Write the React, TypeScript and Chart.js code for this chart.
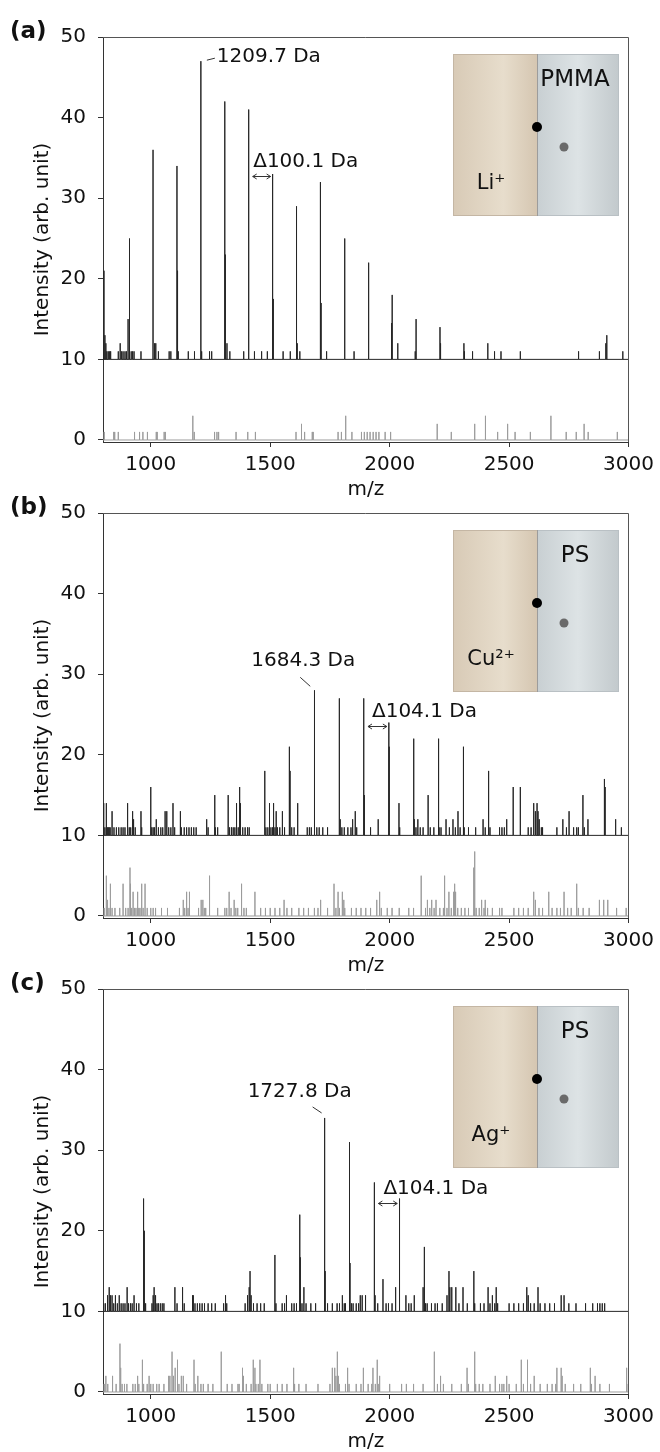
import React, { useEffect, useRef } from "react";
import { Chart, registerables } from "chart.js";

Chart.register(...registerables);

type Peak = [number, number];

const FONT = '"DejaVu Sans", "Liberation Sans", sans-serif';

const xTickValues = [1000, 1500, 2000, 2500, 3000];
const yTickValues = [0, 10, 20, 30, 40, 50];
const X_MIN = 800;
const X_MAX = 3000;
const Y_MIN = -0.25;
const Y_MAX = 50;
const BLACK_BASELINE = 10;
const GRAY_BASELINE = 0;

const panelTags = ["(a)", "(b)", "(c)"];
const polymerNames = ["PMMA", "PS", "PS"];
const ionNames = ["Li⁺", "Cu²⁺", "Ag⁺"];
const peakLabels = ["1209.7 Da", "1684.3 Da", "1727.8 Da"];
const peakLabelMz = [1209.7, 1684.3, 1727.8];
const deltaLabels = ["Δ100.1 Da", "Δ104.1 Da", "Δ104.1 Da"];
const deltaFromMz = [1409.9, 1892.5, 1936.0];
const deltaToMz = [1510.0, 1996.6, 2040.1];

// Panel (a) – Li+ / PMMA : [m/z, intensity above its baseline]
const aBlackPeaks: Peak[] = [
  [804, 11], [808, 3], [812, 2], [816, 1], [822, 1], [828, 1], [832, 1], [864, 1], [872, 2], [878, 1],
  [884, 1], [892, 1], [898, 1], [905, 5], [909.4, 15], [912, 8], [918, 1], [924, 1], [930, 1], [959, 1],
  [1009.5, 26], [1016, 2], [1021, 2], [1032, 1], [1077, 1], [1084, 1], [1109.6, 24], [1112, 11], [1115, 1],
  [1157, 1], [1183, 1], [1209.7, 37], [1213, 1], [1246, 1], [1255, 1], [1309.8, 32], [1312, 13], [1319, 2],
  [1331, 1], [1389, 1], [1409.9, 31], [1434, 1], [1464, 1], [1488, 1], [1510.0, 23], [1513, 7.5], [1554, 1],
  [1584, 1], [1610.1, 19], [1613, 2], [1624, 1], [1710.2, 22], [1713, 7], [1736, 1], [1810.3, 15], [1813, 9],
  [1851, 1], [1910.4, 12], [1913, 1], [2008, 4.5], [2010.5, 8], [2034, 2], [2107, 1], [2110.6, 5], [2210.7, 4],
  [2213, 2], [2310.8, 2], [2313, 1], [2347, 1], [2410.9, 2], [2439, 1], [2466, 1], [2547, 1], [2789, 1],
  [2792, 1], [2878, 1], [2905, 2], [2909, 3], [2976, 1],
];
const aGrayPeaks: Peak[] = [
  [805, 1], [845, 1], [849, 1], [864, 1], [932, 1], [953, 1], [967, 1], [986, 1], [1023, 1], [1027, 1],
  [1056, 1], [1061, 1], [1176, 3], [1182, 1], [1267, 1], [1277, 1], [1284, 1], [1357, 1], [1406, 1], [1438, 1],
  [1608, 1], [1631, 2], [1644, 1], [1676, 1], [1680, 1], [1784, 1], [1798, 1], [1816, 3], [1842, 1], [1882, 1],
  [1894, 1], [1906, 1], [1918, 1], [1931, 1], [1943, 1], [1955, 1], [1981, 1], [2004, 1], [2199, 2], [2258, 1],
  [2356, 2], [2401, 3], [2452, 1], [2492, 2], [2495, 1], [2525, 1], [2589, 1], [2675, 3], [2739, 1], [2781, 1],
  [2814, 2], [2831, 1], [2953, 1],
];

// Panel (b) – Cu2+ / PS
const bBlackPeaks: Peak[] = [
  [803, 4], [808, 1], [814, 4], [818, 1], [822, 1], [826, 1], [830, 1], [838, 3], [846, 1], [856, 1],
  [866, 1], [876, 1], [884, 1], [892, 1], [903, 4], [910, 1], [916, 1], [924, 3], [928, 2], [935, 1],
  [959, 3], [962, 1], [1000, 6], [1004, 1], [1010, 1], [1016, 1], [1023, 2], [1032, 1], [1042, 1], [1050, 1],
  [1060, 3], [1067, 3], [1075, 1], [1084, 1], [1093, 4], [1100, 1], [1124, 3], [1128, 1], [1140, 1], [1150, 1],
  [1160, 1], [1170, 1], [1180, 1], [1190, 1], [1234, 2], [1240, 1], [1267.9, 5], [1270, 1], [1280, 1], [1324, 5],
  [1330, 1], [1338, 1], [1345, 1], [1352, 1], [1359, 4], [1366, 1], [1372.0, 6], [1375, 4], [1385, 1], [1395, 1],
  [1405, 1], [1412, 1], [1476.1, 8], [1478, 7], [1482, 1], [1490, 1], [1497, 4], [1503, 1], [1510, 1], [1514, 4],
  [1520, 1], [1525, 3], [1530, 1], [1540, 1], [1551, 3], [1560, 1], [1580.2, 11], [1583, 8], [1590, 1], [1600, 1],
  [1615, 4], [1655, 1], [1664, 1], [1672, 1], [1684.3, 18], [1686, 9], [1695, 1], [1705, 1], [1720, 1], [1740, 1],
  [1788.4, 17], [1790, 5], [1793, 2], [1800, 1], [1810, 1], [1825, 1], [1838, 1], [1845, 2], [1856, 3], [1862, 1],
  [1890, 3], [1892.5, 17], [1894, 5], [1920, 1], [1952, 2], [1996.6, 14], [1998, 11], [2039, 4], [2042, 1],
  [2100.7, 12], [2103, 2], [2110, 1], [2118, 2], [2128, 1], [2140, 1], [2161, 5], [2170, 1], [2185, 1],
  [2204.8, 12], [2207, 1], [2215, 1], [2236, 2], [2250, 1], [2265, 2], [2275, 1], [2286, 3], [2295, 1],
  [2308.9, 11], [2312, 1], [2330, 1], [2360, 1], [2391, 2], [2400, 1], [2413.0, 8], [2415, 6], [2420, 1],
  [2460, 1], [2470, 1], [2480, 1], [2490, 2], [2517.1, 6], [2547, 6], [2580, 1], [2592, 1], [2603, 4], [2610, 3],
  [2617, 4], [2621, 3], [2626, 2], [2635, 1], [2640, 1], [2700, 1], [2725, 2], [2740, 1], [2751, 3], [2770, 1],
  [2783, 1], [2790, 1], [2809, 5], [2815, 1], [2830, 2], [2899, 7], [2902, 6], [2946, 2], [2970, 1],
];
const bGrayPeaks: Peak[] = [
  [805, 1], [814, 5], [819, 2], [825, 1], [831, 4], [838, 1], [850, 1], [870, 1], [884, 4], [895, 1],
  [905, 1], [913, 6], [915, 4], [920, 1], [926, 3], [932, 1], [938, 1], [945, 3], [950, 1], [955, 1],
  [962, 4], [968, 1], [976, 4], [985, 1], [1000, 1], [1010, 1], [1020, 1], [1045, 1], [1070, 1], [1120, 1],
  [1136, 2], [1142, 1], [1150, 3], [1156, 1], [1162, 3], [1200, 1], [1211, 2], [1218, 2], [1224, 1], [1230, 1],
  [1246, 5], [1280, 1], [1310, 1], [1318, 1], [1328, 3], [1336, 1], [1349, 2], [1356, 1], [1364, 1], [1380, 4],
  [1390, 1], [1400, 1], [1436, 3], [1460, 1], [1480, 1], [1500, 1], [1520, 1], [1540, 1], [1558, 2], [1570, 1],
  [1590, 1], [1620, 1], [1640, 1], [1660, 1], [1685, 1], [1700, 1], [1711, 2], [1740, 1], [1767, 4], [1775, 1],
  [1784, 3], [1790, 1], [1802, 3], [1808, 2], [1812, 1], [1840, 1], [1860, 1], [1880, 1], [1900, 1], [1920, 1],
  [1946, 2], [1958, 3], [1965, 1], [1990, 1], [2010, 1], [2040, 1], [2080, 1], [2100, 1], [2132, 5], [2150, 1],
  [2158, 2], [2168, 1], [2176, 2], [2186, 1], [2194, 2], [2210, 1], [2225, 1], [2230, 5], [2240, 1], [2248, 3],
  [2258, 1], [2268, 3], [2272, 4], [2276, 3], [2285, 1], [2300, 1], [2315, 1], [2330, 1], [2352, 6], [2356, 8],
  [2362, 1], [2375, 1], [2385, 2], [2395, 1], [2400, 2], [2410, 1], [2430, 1], [2460, 1], [2470, 1], [2520, 1],
  [2540, 1], [2560, 1], [2580, 1], [2603, 3], [2610, 2], [2625, 1], [2640, 1], [2666, 3], [2680, 1], [2700, 1],
  [2715, 1], [2730, 3], [2745, 1], [2760, 1], [2783, 4], [2790, 1], [2810, 1], [2835, 1], [2878, 2], [2896, 2],
  [2913, 2], [2950, 1], [2990, 1],
];

// Panel (c) – Ag+ / PS
const cBlackPeaks: Peak[] = [
  [803, 1], [810, 1], [819, 2], [826, 3], [831, 2], [838, 2], [845, 1], [852, 2], [860, 1], [868, 2],
  [876, 1], [884, 1], [892, 1], [901, 3], [907, 1], [915, 1], [922, 1], [930, 2], [940, 1], [950, 1],
  [968, 13], [971, 14], [973, 10], [976, 1], [980, 1], [1005, 1], [1010, 2], [1014, 3], [1020, 2], [1026, 1],
  [1032, 1], [1040, 1], [1048, 1], [1055, 1], [1101, 3], [1110, 1], [1133, 3], [1140, 1], [1175, 2], [1178, 2],
  [1185, 1], [1195, 1], [1205, 1], [1215, 1], [1225, 1], [1240, 1], [1255, 1], [1270, 1], [1305, 1], [1311.4, 2],
  [1314, 2], [1318, 1], [1395, 1], [1405, 2], [1412, 3], [1415.5, 5], [1420, 2], [1430, 1], [1445, 1], [1460, 1],
  [1475, 1], [1519.6, 7], [1524, 1], [1550, 1], [1560, 1], [1568, 2], [1590, 1], [1600, 1], [1610, 1],
  [1623.7, 12], [1626, 6.7], [1633, 1], [1641, 3], [1650, 1], [1670, 1], [1690, 1], [1727.8, 24], [1730, 5],
  [1740, 1], [1760, 1], [1780, 1], [1790, 1], [1802, 2], [1810, 1], [1815, 1], [1831.9, 21], [1834, 6],
  [1840, 1], [1847, 1], [1860, 1], [1870, 1], [1877, 2], [1885, 2], [1899, 2], [1936.0, 16], [1939, 2],
  [1950, 1], [1972, 4], [1985, 1], [1995, 1], [2010, 1], [2025, 3], [2040.1, 14], [2042, 11], [2068, 2],
  [2080, 1], [2090, 1], [2103, 2], [2140, 3], [2144.2, 8], [2146, 5], [2150, 1], [2157, 1], [2175, 1],
  [2190, 1], [2200, 1], [2220, 1], [2240, 2], [2248.3, 5], [2252, 3], [2260, 3], [2277, 3], [2290, 1],
  [2307, 3], [2325, 1], [2352.4, 5], [2356, 1], [2380, 1], [2395, 1], [2412, 3], [2420, 1], [2430, 2],
  [2440, 1], [2446, 3], [2452, 1], [2500, 1], [2520, 1], [2540, 1], [2560, 1], [2574, 3], [2580, 2], [2590, 1],
  [2605, 1], [2621, 3], [2630, 1], [2650, 1], [2670, 1], [2690, 1], [2718, 2], [2730, 2], [2750, 1], [2780, 1],
  [2820, 1], [2850, 1], [2870, 1], [2880, 1], [2890, 1], [2900, 1],
];
const cGrayPeaks: Peak[] = [
  [805, 1], [812, 2], [820, 1], [840, 2], [855, 1], [871, 6], [874, 3], [880, 1], [890, 1], [900, 1],
  [925, 1], [935, 1], [945, 2], [950, 1], [965, 4], [970, 1], [985, 1], [993, 2], [1000, 1], [1010, 1],
  [1025, 1], [1035, 1], [1055, 1], [1075, 2], [1080, 2], [1089, 5], [1095, 2], [1102, 3], [1110, 4], [1113, 2],
  [1118, 1], [1128, 2], [1136, 2], [1150, 1], [1181, 4], [1186, 1], [1197, 2], [1210, 1], [1220, 1], [1240, 1],
  [1260, 1], [1295, 5], [1320, 1], [1340, 1], [1365, 1], [1370, 1], [1384, 3], [1388, 2], [1400, 1], [1420, 1],
  [1429, 4], [1436, 3], [1440, 1], [1450, 1], [1457, 4], [1465, 1], [1490, 1], [1500, 1], [1530, 1], [1550, 1],
  [1570, 1], [1598, 3], [1602, 1], [1620, 1], [1650, 1], [1700, 1], [1750, 1], [1760, 3], [1770, 3], [1775, 2],
  [1781, 5], [1785, 2], [1790, 1], [1815, 1], [1824, 3], [1830, 1], [1860, 1], [1880, 1], [1890, 3], [1910, 1],
  [1925, 1], [1930, 3], [1940, 1], [1948, 4], [1952, 1], [1958, 2], [2000, 1], [2050, 1], [2070, 1], [2100, 1],
  [2140, 1], [2187, 5], [2200, 1], [2213, 2], [2225, 1], [2260, 1], [2300, 1], [2324, 3], [2330, 1], [2356, 5],
  [2360, 1], [2375, 1], [2390, 1], [2420, 1], [2442, 2], [2460, 1], [2470, 1], [2478, 1], [2490, 2], [2500, 1],
  [2530, 1], [2551, 4], [2560, 1], [2577, 4], [2590, 1], [2605, 2], [2630, 1], [2660, 1], [2680, 1], [2695, 1],
  [2700, 3], [2718, 3], [2722, 2], [2735, 1], [2770, 1], [2800, 1], [2840, 3], [2845, 1], [2860, 2], [2880, 1],
  [2920, 1], [2992, 3], [2998, 1],
];

const blackSeries = [aBlackPeaks, bBlackPeaks, cBlackPeaks];
const graySeries = [aGrayPeaks, bGrayPeaks, cGrayPeaks];

// ---- layout (pixels) ----
const CANVAS_W = 660;
const CANVAS_H = 500;
const PANEL_TOPS = [0, 476, 952];
const leaderStart = [[6, -1], [-14, -13], [-12, -11]];
const leaderEnd = [[14, -3], [-4, -4], [-3, -5]];
const labelPos = [[16, -4], [-11, -30], [-25, -26]];
const labelAlign: CanvasTextAlign[] = ["left", "center", "center"];
const deltaArrowDy = [2, 3, 4];
const deltaTextDx = [4.5, 8, 9];

function spikes(peaks: Peak[], base: number) {
  const sorted = [...peaks].sort((p, q) => p[0] - q[0]);
  const pts: { x: number; y: number }[] = [{ x: X_MIN, y: base }];
  for (const [m, h] of sorted) {
    pts.push({ x: m, y: base }, { x: m, y: base + h }, { x: m, y: base });
  }
  pts.push({ x: X_MAX, y: base });
  return pts;
}

function decorPlugin(i: number) {
  return {
    id: "decor" + i,
    afterDraw(chart: any) {
      const { ctx, chartArea: ca, scales } = chart;
      const xs = scales.x;
      const ys = scales.y;
      ctx.save();

      // frame top & right
      ctx.strokeStyle = "#555";
      ctx.lineWidth = 1;
      ctx.beginPath();
      const tY = Math.round(ca.top) + 0.5;
      const rX = Math.round(ca.right) - 0.5;
      ctx.moveTo(ca.left, tY);
      ctx.lineTo(rX, tY);
      ctx.lineTo(rX, ca.bottom);
      ctx.stroke();

      // panel tag
      ctx.fillStyle = "#111";
      ctx.font = `bold 23px ${FONT}`;
      ctx.textAlign = "left";
      ctx.textBaseline = "middle";
      ctx.fillText(panelTags[i], 10, 32);

      // inset
      const L = ca.left + 350;
      const T = ca.top + 17;
      const W = 166;
      const H = 162;
      const D = L + 84;
      const g1 = ctx.createLinearGradient(L, 0, D, 0);
      g1.addColorStop(0, "#d8cab6");
      g1.addColorStop(0.6, "#e7ddcc");
      g1.addColorStop(1, "#d5c6b1");
      ctx.fillStyle = g1;
      ctx.fillRect(L, T, D - L, H);
      const g2 = ctx.createLinearGradient(D, 0, L + W, 0);
      g2.addColorStop(0, "#c8cfd2");
      g2.addColorStop(0.5, "#dde3e5");
      g2.addColorStop(1, "#c2c9cc");
      ctx.fillStyle = g2;
      ctx.fillRect(D, T, L + W - D, H);
      ctx.strokeStyle = "#c4b6a4";
      ctx.strokeRect(L + 0.5, T + 0.5, D - L, H - 1);
      ctx.strokeStyle = "#b9c0c4";
      ctx.strokeRect(D + 0.5, T + 0.5, L + W - D - 1, H - 1);
      ctx.strokeStyle = "#9c9c9c";
      ctx.beginPath();
      ctx.moveTo(D + 0.5, T);
      ctx.lineTo(D + 0.5, T + H);
      ctx.stroke();
      ctx.fillStyle = "#000";
      ctx.beginPath();
      ctx.arc(D, T + 73, 5, 0, Math.PI * 2);
      ctx.fill();
      ctx.fillStyle = "#6a6a6a";
      ctx.beginPath();
      ctx.arc(D + 27, T + 93, 4.5, 0, Math.PI * 2);
      ctx.fill();
      ctx.fillStyle = "#111";
      ctx.textAlign = "center";
      ctx.font = `23px ${FONT}`;
      ctx.fillText(polymerNames[i], L + 122, T + 26);
      ctx.font = `21px ${FONT}`;
      ctx.fillText(ionNames[i], L + 38, T + 130);

      // peak label
      const black = blackSeries[i];
      const pk = black.find((p) => p[0] === peakLabelMz[i]) as Peak;
      const xp = xs.getPixelForValue(pk[0]);
      const yt = ys.getPixelForValue(BLACK_BASELINE + pk[1]);
      ctx.strokeStyle = "#333";
      ctx.beginPath();
      ctx.moveTo(xp + leaderStart[i][0], yt + leaderStart[i][1]);
      ctx.lineTo(xp + leaderEnd[i][0], yt + leaderEnd[i][1]);
      ctx.stroke();
      ctx.font = `20px ${FONT}`;
      ctx.textAlign = labelAlign[i];
      ctx.fillText(peakLabels[i], xp + labelPos[i][0], yt + labelPos[i][1]);

      // delta arrow
      const pa = black.find((p) => p[0] === deltaFromMz[i]) as Peak;
      const pb = black.find((p) => p[0] === deltaToMz[i]) as Peak;
      const xL = xs.getPixelForValue(pa[0]);
      const xR = xs.getPixelForValue(pb[0]);
      const yR = ys.getPixelForValue(BLACK_BASELINE + pb[1]);
      const ay = Math.round(yR + deltaArrowDy[i]) + 0.5;
      const x1 = xL + 4;
      const x2 = xR - 2;
      ctx.beginPath();
      ctx.moveTo(x1, ay);
      ctx.lineTo(x2, ay);
      ctx.moveTo(x1 + 4, ay - 2.5);
      ctx.lineTo(x1, ay);
      ctx.lineTo(x1 + 4, ay + 2.5);
      ctx.moveTo(x2 - 4, ay - 2.5);
      ctx.lineTo(x2, ay);
      ctx.lineTo(x2 - 4, ay + 2.5);
      ctx.stroke();
      ctx.textAlign = "left";
      ctx.fillText(deltaLabels[i], xL + deltaTextDx[i], ay - 15);

      ctx.restore();
    },
  };
}

function buildConfig(i: number): any {
  return {
    type: "line",
    data: {
      datasets: [
        {
          data: spikes(graySeries[i], GRAY_BASELINE),
          borderColor: "#9c9c9c",
          borderWidth: 1,
          pointRadius: 0,
          tension: 0,
          borderJoinStyle: "bevel",
          fill: false,
        },
        {
          data: spikes(blackSeries[i], BLACK_BASELINE),
          borderColor: "#262626",
          borderWidth: 1,
          pointRadius: 0,
          tension: 0,
          borderJoinStyle: "bevel",
          fill: false,
        },
      ],
    },
    options: {
      animation: false,
      responsive: false,
      events: [],
      layout: { padding: { top: 37, right: 25, left: 0, bottom: 0 } },
      plugins: { legend: { display: false }, tooltip: { enabled: false } },
      scales: {
        x: {
          type: "linear",
          min: X_MIN,
          max: X_MAX,
          afterBuildTicks: (s: any) => {
            s.ticks = xTickValues.map((v) => ({ value: v }));
          },
          afterFit: (s: any) => {
            s.height = CANVAS_H - 442;
          },
          ticks: {
            font: { family: FONT, size: 20 },
            color: "#111",
            padding: 6,
            maxRotation: 0,
            autoSkip: false,
            callback: (v: any) => String(v),
          },
          grid: { drawOnChartArea: false, drawTicks: true, tickLength: 5, color: "#333" },
          border: { color: "#333", width: 1 },
          title: {
            display: true,
            text: "m/z",
            color: "#111",
            font: { family: FONT, size: 20, lineHeight: 1 },
            padding: { top: 0, bottom: 0 },
          },
        },
        y: {
          type: "linear",
          min: Y_MIN,
          max: Y_MAX,
          afterBuildTicks: (s: any) => {
            s.ticks = yTickValues.map((v) => ({ value: v }));
          },
          afterFit: (s: any) => {
            s.width = 103;
          },
          ticks: {
            font: { family: FONT, size: 20 },
            color: "#111",
            padding: 12,
            callback: (v: any) => String(v),
          },
          grid: { drawOnChartArea: false, drawTicks: true, tickLength: 5, color: "#333" },
          border: { color: "#333", width: 1 },
          title: {
            display: true,
            text: "Intensity (arb. unit)",
            color: "#111",
            font: { family: FONT, size: 20, lineHeight: 1 },
            padding: { top: 33, bottom: 0 },
          },
        },
      },
    },
    plugins: [decorPlugin(i)],
  };
}

function Panel({ index }: { index: number }) {
  const ref = useRef<HTMLCanvasElement | null>(null);
  useEffect(() => {
    if (!ref.current) return;
    const chart = new Chart(ref.current, buildConfig(index));
    return () => chart.destroy();
  }, [index]);
  return (
    <canvas
      ref={ref}
      width={CANVAS_W}
      height={CANVAS_H}
      style={{
        position: "absolute",
        left: 0,
        top: PANEL_TOPS[index],
        width: CANVAS_W,
        height: CANVAS_H,
        display: "block",
      }}
    />
  );
}

export default function App() {
  return (
    <div
      style={{
        position: "absolute",
        left: 0,
        top: 0,
        width: 660,
        height: 1452,
        overflow: "hidden",
        background: "#fff",
      }}
    >
      <Panel index={0} />
      <Panel index={1} />
      <Panel index={2} />
    </div>
  );
}
